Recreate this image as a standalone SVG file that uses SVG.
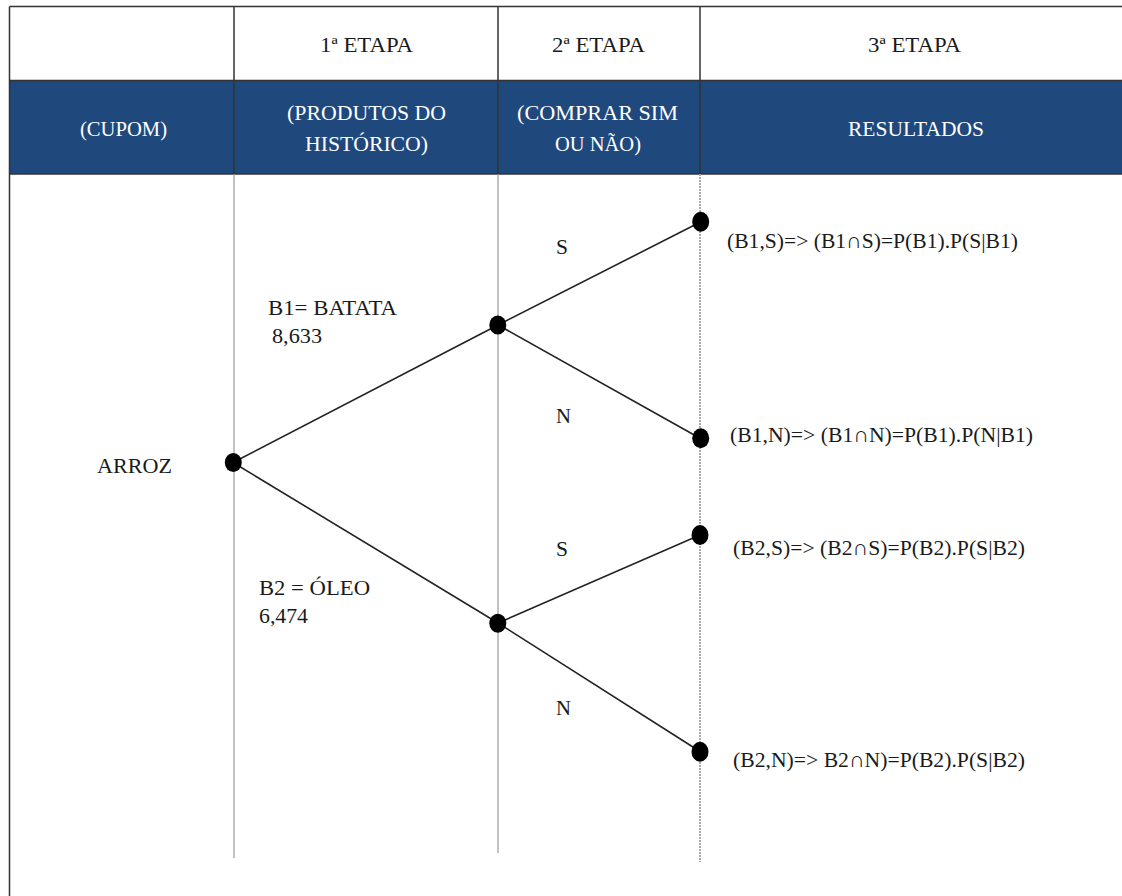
<svg xmlns="http://www.w3.org/2000/svg" width="1122" height="896" viewBox="0 0 1122 896">
<style>
text{font-family:'Liberation Serif','DejaVu Serif',serif;font-size:22px;fill:#1a1a1a}
.w{fill:#ffffff}
.grid{stroke:#333;stroke-width:1.5;fill:none}
.vl{stroke:#9a9a9a;stroke-width:1.2}
.dl{stroke:#aaa;stroke-width:2;stroke-dasharray:2 1}
.edge{stroke:#222;stroke-width:1.6}
.dot{fill:#000}
</style>
<rect width="1122" height="896" fill="#fff"/>
<g id="table">
<rect x="9.5" y="80.5" width="1113" height="93.5" fill="#1F487C"/>
<line class="grid" x1="9.5" y1="6.5" x2="1122" y2="6.5"/>
<line class="grid" x1="9.5" y1="80.5" x2="1122" y2="80.5"/>
<line class="grid" x1="9.5" y1="174" x2="1122" y2="174"/>
<line class="grid" x1="9.5" y1="6.5" x2="9.5" y2="896"/>
<line class="grid" x1="234" y1="6.5" x2="234" y2="174"/>
<line class="grid" x1="498" y1="6.5" x2="498" y2="174"/>
<line class="grid" x1="700" y1="6.5" x2="700" y2="174"/>
<line class="vl" x1="234" y1="174" x2="234" y2="858"/>
<line class="vl" x1="498" y1="174" x2="498" y2="853"/>
<line class="dl" x1="700" y1="174" x2="700" y2="862"/>
<text x="320" y="52" textLength="93" lengthAdjust="spacingAndGlyphs">1ª ETAPA</text>
<text x="552" y="52" textLength="93" lengthAdjust="spacingAndGlyphs">2ª ETAPA</text>
<text x="868" y="52" textLength="93" lengthAdjust="spacingAndGlyphs">3ª ETAPA</text>
<text class="w" x="80" y="136" textLength="87" lengthAdjust="spacingAndGlyphs">(CUPOM)</text>
<text class="w" x="287" y="120" textLength="159" lengthAdjust="spacingAndGlyphs">(PRODUTOS  DO</text>
<text class="w" x="305" y="151" textLength="123" lengthAdjust="spacingAndGlyphs">HISTÓRICO)</text>
<text class="w" x="517" y="120" textLength="161" lengthAdjust="spacingAndGlyphs">(COMPRAR SIM</text>
<text class="w" x="555" y="151" textLength="86" lengthAdjust="spacingAndGlyphs">OU NÃO)</text>
<text class="w" x="848" y="136" textLength="136" lengthAdjust="spacingAndGlyphs">RESULTADOS</text>
</g>
<g id="connectors">
<line class="edge" x1="233" y1="462.5" x2="498" y2="325"/>
<line class="edge" x1="233" y1="462.5" x2="498" y2="623"/>
<line class="edge" x1="498" y1="325" x2="700.5" y2="222"/>
<line class="edge" x1="498" y1="325" x2="700.5" y2="438.5"/>
<line class="edge" x1="498" y1="623" x2="700" y2="535"/>
<line class="edge" x1="498" y1="623" x2="700" y2="751.5"/>
</g>
<g id="root"><ellipse class="dot" cx="233.3" cy="462.5" rx="8.5" ry="9.5"/><text x="97" y="473" textLength="75" lengthAdjust="spacingAndGlyphs">ARROZ</text></g>
<g id="b1"><ellipse class="dot" cx="497.8" cy="325" rx="8.5" ry="9.5"/><text x="268" y="315" textLength="129" lengthAdjust="spacingAndGlyphs">B1= BATATA</text><text x="272" y="343" textLength="50" lengthAdjust="spacingAndGlyphs">8,633</text></g>
<g id="b2"><ellipse class="dot" cx="497.8" cy="623.3" rx="8.5" ry="9.5"/><text x="259" y="595" textLength="111" lengthAdjust="spacingAndGlyphs">B2 = ÓLEO</text><text x="259" y="623" textLength="49" lengthAdjust="spacingAndGlyphs">6,474</text></g>
<g id="b1s"><ellipse class="dot" cx="700.7" cy="221.7" rx="8.5" ry="10"/><text x="556" y="254" textLength="12" lengthAdjust="spacingAndGlyphs">S</text><text x="727" y="248" textLength="291" lengthAdjust="spacingAndGlyphs">(B1,S)=&gt; (B1∩S)=P(B1).P(S|B1)</text></g>
<g id="b1n"><ellipse class="dot" cx="700.7" cy="438.3" rx="8.5" ry="10"/><text x="556" y="423" textLength="15" lengthAdjust="spacingAndGlyphs">N</text><text x="730" y="442" textLength="303" lengthAdjust="spacingAndGlyphs">(B1,N)=&gt; (B1∩N)=P(B1).P(N|B1)</text></g>
<g id="b2s"><ellipse class="dot" cx="700" cy="535" rx="8.5" ry="10"/><text x="556" y="556" textLength="12" lengthAdjust="spacingAndGlyphs">S</text><text x="733" y="555" textLength="292" lengthAdjust="spacingAndGlyphs">(B2,S)=&gt; (B2∩S)=P(B2).P(S|B2)</text></g>
<g id="b2n"><ellipse class="dot" cx="700" cy="751.7" rx="8.5" ry="10"/><text x="556" y="715" textLength="15" lengthAdjust="spacingAndGlyphs">N</text><text x="733" y="767" textLength="292" lengthAdjust="spacingAndGlyphs">(B2,N)=&gt; B2∩N)=P(B2).P(S|B2)</text></g>
</svg>
